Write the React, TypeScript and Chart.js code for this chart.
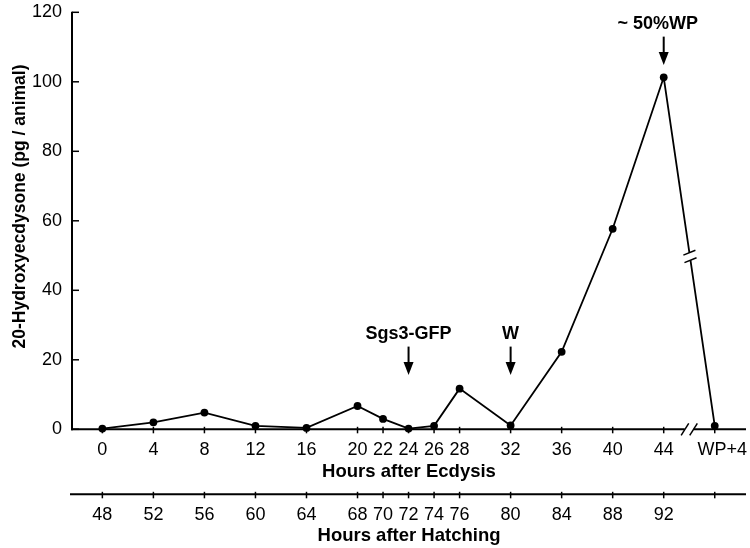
import React, { useEffect, useRef } from "react";
import { Chart, registerables } from "chart.js";

Chart.register(...registerables);

// ---------- data ----------
const hoursAfterEcdysis = [0, 4, 8, 12, 16, 20, 22, 24, 26, 28, 32, 36, 40, 44, 48];
const ecdysisTickLabels = ["0", "4", "8", "12", "16", "20", "22", "24", "26", "28", "32", "36", "40", "44", "\u00a0\u00a0\u00a0WP+4"];
const hatchingTickLabels = ["48", "52", "56", "60", "64", "68", "70", "72", "74", "76", "80", "84", "88", "92", ""];
const hydroxyecdysone = [0.2, 2.0, 4.8, 1.0, 0.4, 6.7, 3.0, 0.2, 1.0, 11.7, 1.1, 22.3, 57.7, 101.3, 1.0];
const yTicks = [0, 20, 40, 60, 80, 100, 120];

// annotations: x in hours, y in pg/animal
const annotationLabels = ["Sgs3-GFP", "W", "~ 50%WP"];
const annotationX = [24, 32, 44];
const annotationTextY = [27.4, 27.4, 116.6];
const annotationArrowTop = [23.8, 23.8, 113.0];
const annotationArrowTip = [15.6, 15.6, 104.8];
const annotationTextDx = [0, 0, -6];

const FONT = "'Liberation Sans', Arial, Helvetica, sans-serif";

const customDraw = {
  id: "customDraw",
  afterDraw(chart: any) {
    const { ctx, chartArea, scales } = chart;
    const x = scales.x;
    const y = scales.y;
    const x2 = scales.x2;
    ctx.save();
    ctx.strokeStyle = "#000";
    ctx.fillStyle = "#000";
    ctx.lineCap = "butt";

    // y axis
    ctx.lineWidth = 2;
    ctx.beginPath();
    ctx.moveTo(chartArea.left, y.getPixelForValue(120) - 0.5);
    ctx.lineTo(chartArea.left, chartArea.bottom + 1);
    ctx.stroke();
    ctx.lineWidth = 1.5;
    yTicks.forEach((v) => {
      const py = y.getPixelForValue(v);
      ctx.beginPath();
      ctx.moveTo(chartArea.left, py);
      ctx.lineTo(chartArea.left + 7, py);
      ctx.stroke();
    });

    // x axis (ecdysis)
    const xb = chartArea.bottom;
    ctx.lineWidth = 2;
    ctx.beginPath();
    ctx.moveTo(chartArea.left - 1, xb);
    ctx.lineTo(chartArea.right, xb);
    ctx.stroke();
    ctx.lineWidth = 1.5;
    hoursAfterEcdysis.forEach((v) => {
      const px = x.getPixelForValue(v);
      ctx.beginPath();
      ctx.moveTo(px, xb - 2.5);
      ctx.lineTo(px, xb + 4);
      ctx.stroke();
    });

    // axis break "//" at 46
    const bx = x.getPixelForValue(46);
    ctx.fillStyle = "#fff";
    ctx.fillRect(bx - 4.5, xb - 2, 9, 4);
    ctx.fillStyle = "#000";
    ctx.lineWidth = 1.5;
    [-4.3, 4.3].forEach((d) => {
      ctx.beginPath();
      ctx.moveTo(bx + d - 3.8, xb + 6);
      ctx.lineTo(bx + d + 3.8, xb - 6);
      ctx.stroke();
    });

    // bottom axis (hatching)
    const hb = x2.top;
    ctx.lineWidth = 2;
    ctx.beginPath();
    ctx.moveTo(chartArea.left - 2, hb);
    ctx.lineTo(chartArea.right, hb);
    ctx.stroke();
    ctx.lineWidth = 1.5;
    hoursAfterEcdysis.forEach((v) => {
      const px = x2.getPixelForValue(v);
      ctx.beginPath();
      ctx.moveTo(px, hb - 2.5);
      ctx.lineTo(px, hb + 4);
      ctx.stroke();
    });

    // break on the data line between 44 and WP+4
    const n = hoursAfterEcdysis.length;
    const p1x = x.getPixelForValue(hoursAfterEcdysis[n - 2]);
    const p1y = y.getPixelForValue(hydroxyecdysone[n - 2]);
    const p2x = x.getPixelForValue(hoursAfterEcdysis[n - 1]);
    const p2y = y.getPixelForValue(hydroxyecdysone[n - 1]);
    const t = 0.514;
    const cx = p1x + (p2x - p1x) * t;
    const cy = p1y + (p2y - p1y) * t;
    const len = Math.hypot(p2x - p1x, p2y - p1y);
    const ux = (p2x - p1x) / len;
    const uy = (p2y - p1y) / len;
    const ang = (-22 * Math.PI) / 180;
    const mx = Math.cos(ang) * 6.5;
    const my = Math.sin(ang) * 6.5;
    const sep = 3.8;
    const a1x = cx - ux * sep, a1y = cy - uy * sep;
    const a2x = cx + ux * sep, a2y = cy + uy * sep;
    ctx.fillStyle = "#fff";
    ctx.beginPath();
    ctx.moveTo(a1x - mx, a1y - my);
    ctx.lineTo(a1x + mx, a1y + my);
    ctx.lineTo(a2x + mx, a2y + my);
    ctx.lineTo(a2x - mx, a2y - my);
    ctx.closePath();
    ctx.fill();
    ctx.fillStyle = "#000";
    ctx.lineWidth = 1.5;
    [[a1x, a1y], [a2x, a2y]].forEach(([qx, qy]) => {
      ctx.beginPath();
      ctx.moveTo(qx - mx, qy - my);
      ctx.lineTo(qx + mx, qy + my);
      ctx.stroke();
    });

    // annotations with arrows
    ctx.font = `bold 18px ${FONT}`;
    ctx.textAlign = "center";
    ctx.textBaseline = "middle";
    annotationLabels.forEach((lab, i) => {
      const px = x.getPixelForValue(annotationX[i]);
      ctx.fillText(lab, px + annotationTextDx[i], y.getPixelForValue(annotationTextY[i]));
      const top = y.getPixelForValue(annotationArrowTop[i]);
      const tip = y.getPixelForValue(annotationArrowTip[i]);
      ctx.lineWidth = 2;
      ctx.beginPath();
      ctx.moveTo(px, top);
      ctx.lineTo(px, tip - 10);
      ctx.stroke();
      ctx.beginPath();
      ctx.moveTo(px - 5, tip - 13);
      ctx.lineTo(px + 5, tip - 13);
      ctx.lineTo(px, tip);
      ctx.closePath();
      ctx.fill();
    });

    // y axis title
    ctx.save();
    ctx.translate(20, 206.5);
    ctx.rotate(-Math.PI / 2);
    ctx.font = `bold 17.5px ${FONT}`;
    ctx.fillText("20-Hydroxyecdysone (pg / animal)", 0, 0);
    ctx.restore();

    ctx.restore();
  },
};

const zeroPad = (s: any) => {
  s.paddingLeft = 0;
  s.paddingRight = 0;
  s.paddingTop = 0;
  s.paddingBottom = 0;
};

export default function App() {
  const ref = useRef<HTMLCanvasElement | null>(null);

  useEffect(() => {
    if (!ref.current) return;
    const setTicks = (scale: any) => {
      scale.ticks = hoursAfterEcdysis.map((v) => ({ value: v }));
    };
    const chart = new Chart(ref.current, {
      type: "line",
      data: {
        datasets: [
          {
            data: hoursAfterEcdysis.map((h, i) => ({ x: h, y: hydroxyecdysone[i] })),
            borderColor: "#000",
            backgroundColor: "#000",
            borderWidth: 1.8,
            pointRadius: 3.9,
            pointBackgroundColor: "#000",
            pointBorderWidth: 0,
            tension: 0,
            clip: false as any,
          },
        ],
      },
      options: {
        animation: false,
        responsive: false,
        devicePixelRatio: 1,
        layout: { padding: { left: 0, right: 2, top: 12.3, bottom: 0 } },
        plugins: { legend: { display: false }, tooltip: { enabled: false } },
        scales: {
          x: {
            type: "linear",
            position: "bottom",
            min: -2.38,
            max: 50.45,
            grid: { display: false, drawTicks: false },
            border: { display: false },
            afterBuildTicks: setTicks,
            afterFit: (s: any) => {
              s.height = 65;
              zeroPad(s);
            },
            ticks: {
              autoSkip: false,
              maxRotation: 0,
              padding: 10,
              color: "#000",
              font: { family: FONT, size: 18 },
              callback: (_v: any, i: number) => ecdysisTickLabels[i],
            },
            title: {
              display: true,
              text: "Hours after Ecdysis",
              color: "#000",
              font: { family: FONT, size: 18.5, weight: "bold" },
              padding: { top: 0, bottom: 11 },
            },
          },
          x2: {
            type: "linear",
            position: "bottom",
            min: -2.38,
            max: 50.45,
            grid: { display: false, drawTicks: false },
            border: { display: false },
            afterBuildTicks: setTicks,
            afterFit: (s: any) => {
              s.height = 53.7;
              zeroPad(s);
            },
            ticks: {
              autoSkip: false,
              maxRotation: 0,
              padding: 9.5,
              color: "#000",
              font: { family: FONT, size: 18 },
              callback: (_v: any, i: number) => hatchingTickLabels[i],
            },
            title: {
              display: true,
              text: "Hours after Hatching",
              color: "#000",
              font: { family: FONT, size: 18.5, weight: "bold" },
              padding: { top: 0, bottom: 1 },
            },
          },
          y: {
            type: "linear",
            min: 0,
            max: 120,
            grid: { display: false, drawTicks: false },
            border: { display: false },
            afterBuildTicks: (s: any) => {
              s.ticks = yTicks.map((v) => ({ value: v }));
            },
            afterFit: (s: any) => {
              s.width = 72;
              zeroPad(s);
            },
            ticks: {
              padding: 10,
              color: "#000",
              font: { family: FONT, size: 18 },
            },
          },
        },
      },
      plugins: [customDraw],
    });
    return () => chart.destroy();
  }, []);

  return (
    <div style={{ position: "fixed", left: 0, top: 0, width: 750, height: 548, background: "#fff" }}>
      <canvas ref={ref} width={750} height={548} style={{ display: "block", width: 750, height: 548 }} />
    </div>
  );
}
